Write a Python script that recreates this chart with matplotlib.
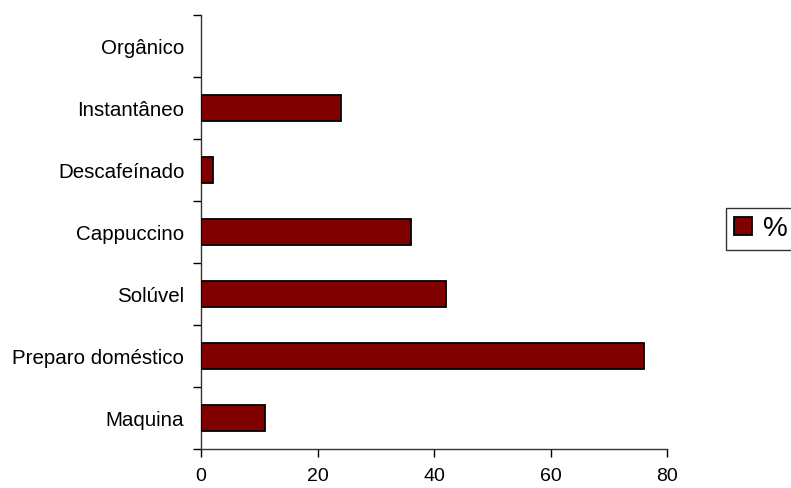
import matplotlib
matplotlib.use("Agg")
import matplotlib.pyplot as plt
import numpy as np

categories = ["Maquina", "Preparo doméstico", "Solúvel", "Cappuccino",
              "Descafeínado", "Instantâneo", "Orgânico"]
values = [11, 76, 42, 36, 2, 24, 0]
x_ticks = [0, 20, 40, 60, 80]
series_name = "%"

plt.rcParams["font.family"] = ["Liberation Sans", "DejaVu Sans"]

fig = plt.figure(figsize=(7.91, 4.88), dpi=100)
ax = fig.add_axes([201 / 791, 39 / 488, 466 / 791, 434 / 488])

y = np.arange(len(categories))
# empty categories get no outline so nothing shows at zero
edge_widths = [1.3 if v > 0 else 0 for v in values]
ax.barh(y, values, height=0.42, color="#800000", edgecolor="black",
        linewidth=edge_widths, label=series_name, zorder=3)

ax.set_xlim(0, 80)
ax.set_ylim(-0.5, len(categories) - 0.5)
ax.set_xticks(x_ticks)
ax.set_yticks(y)
ax.set_yticklabels(categories)
ax.set_yticks(np.arange(-0.5, len(categories)), minor=True)

ax.tick_params(axis="y", which="major", length=0, pad=12, labelsize=14.8)
ax.tick_params(axis="y", which="minor", length=6, width=1, color="black",
               direction="out")
ax.tick_params(axis="x", which="major", length=6, width=1, direction="out",
               pad=8, labelsize=14)

for side in ("top", "right"):
    ax.spines[side].set_visible(False)
for side in ("left", "bottom"):
    ax.spines[side].set_color("#333333")
    ax.spines[side].set_linewidth(1)

leg = fig.legend(loc="upper left", bbox_to_anchor=(726 / 791, 1 - 208 / 488),
                 frameon=True, fancybox=False, fontsize=20,
                 handlelength=0.66, handleheight=0.66, handletextpad=0.4,
                 borderpad=0.28, borderaxespad=0)
leg.get_frame().set_edgecolor("black")
leg.get_frame().set_linewidth(1)

fig.savefig("out.png", dpi=100)
